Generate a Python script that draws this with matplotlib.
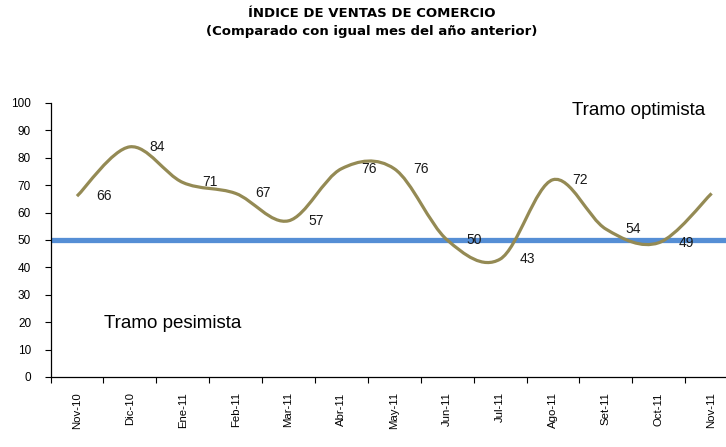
import numpy as np
import matplotlib
matplotlib.use("Agg")
import matplotlib.pyplot as plt
from matplotlib.path import Path
from matplotlib.patches import PathPatch

plt.rcParams['font.family'] = ['Liberation Sans', 'DejaVu Sans']

categories = ["Nov-10", "Dic-10", "Ene-11", "Feb-11", "Mar-11", "Abr-11", "May-11",
              "Jun-11", "Jul-11", "Ago-11", "Set-11", "Oct-11", "Nov-11"]
values = [66, 84, 71, 67, 57, 76, 76, 50, 43, 72, 54, 49, 67]
threshold = 50
yticks = list(range(0, 101, 10))

fig = plt.figure(figsize=(7.26, 4.47), dpi=100)
ax = fig.add_axes([0.0696, 0.1566, 0.947, 0.613])

x = np.arange(len(values), dtype=float)
y = np.array(values, dtype=float)

# Excel-like smoothed line (Catmull-Rom via cubic Bezier)
verts = [(x[0], y[0])]
codes = [Path.MOVETO]
n = len(x)
for i in range(n - 1):
    p0 = np.array([x[max(i - 1, 0)], y[max(i - 1, 0)]])
    p1 = np.array([x[i], y[i]])
    p2 = np.array([x[i + 1], y[i + 1]])
    p3 = np.array([x[min(i + 2, n - 1)], y[min(i + 2, n - 1)]])
    c1 = p1 + (p2 - p0) / 6.0
    c2 = p2 - (p3 - p1) / 6.0
    verts += [tuple(c1), tuple(c2), tuple(p2)]
    codes += [Path.CURVE4] * 3
path = Path(verts, codes)

ax.axhline(threshold, color='#558ED5', lw=3.8, zorder=2)
ax.add_patch(PathPatch(path, facecolor='none', edgecolor='#948A54', lw=2.3, zorder=3,
                       capstyle='butt'))

for xi, v in zip(x, values):
    ax.annotate(str(v), (xi, v), xytext=(14, 0), textcoords='offset points',
                ha='left', va='center', fontsize=10, color='#1a1a1a', zorder=4,
                annotation_clip=False)

ax.set_xlim(-0.5, len(values) - 0.5)
ax.set_ylim(0, 100)
ax.set_yticks(yticks)
ax.tick_params(axis='y', labelsize=8.5, length=4, width=0.8, direction='out', pad=10)
ax.set_xticks(np.arange(-0.5, len(values), 1.0))
ax.set_xticklabels([])
ax.tick_params(axis='x', which='major', length=4, width=0.8, direction='out')
ax.set_xticks(x, minor=True)
ax.set_xticklabels(categories, minor=True, rotation=90, fontsize=8.2)
ax.tick_params(axis='x', which='minor', length=0, pad=11)

for s in ['top', 'right']:
    ax.spines[s].set_visible(False)
for s in ['left', 'bottom']:
    ax.spines[s].set_linewidth(0.9)

ax.text(9.36, 97.4, "Tramo optimista", fontsize=13.5, ha='left', va='center')
ax.text(0.51, 19.7, "Tramo pesimista", fontsize=13.5, ha='left', va='center')

fig.text(0.512, 0.969, "ÍNDICE DE VENTAS DE COMERCIO", fontsize=9.5, fontweight='bold',
         ha='center', va='center', family='DejaVu Sans')
fig.text(0.512, 0.929, "(Comparado con igual mes del año anterior)", fontsize=9.5,
         fontweight='bold', ha='center', va='center', family='DejaVu Sans')

fig.savefig("out.png", dpi=100)
